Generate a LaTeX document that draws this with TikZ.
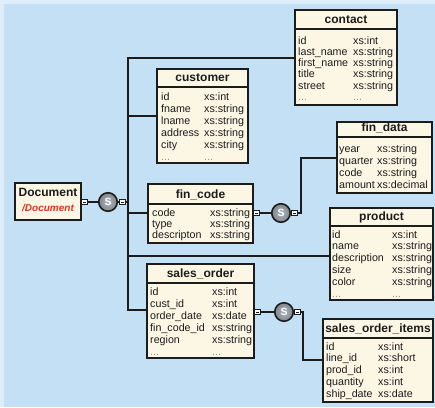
\documentclass[tikz,border=0pt]{standalone}
\usepackage{fontspec}
\setmainfont{Liberation Sans}
\usetikzlibrary{fit}
\definecolor{bgout}{RGB}{221,238,250}
\definecolor{bgin}{RGB}{196,224,244}
\definecolor{cream}{RGB}{252,246,228}
\definecolor{ink}{RGB}{28,28,28}
\definecolor{docred}{RGB}{224,52,30}
\definecolor{sgray}{RGB}{128,134,142}
\definecolor{sgrayl}{RGB}{176,181,187}
\definecolor{dotgray}{RGB}{150,150,150}
\tikzset{
  tbl/.style={draw=ink, line width=1.6pt, fill=cream, inner sep=0pt},
  ttl/.style={font=\fontsize{12}{12}\selectfont\bfseries, text=ink, anchor=base, inner sep=0pt},
  rowtxt/.style={font=\fontsize{10.7}{10.7}\selectfont, text=ink, anchor=base west, inner sep=0pt},
  conn/.style={draw=ink, line width=1.6pt},
  pinbox/.style={draw=ink, line width=0.6pt, fill=white, minimum width=6pt, minimum height=5pt, inner sep=0pt,
    path picture={\draw[line width=0.5pt] ([xshift=-1.5pt]path picture bounding box.center) -- ([xshift=1.5pt]path picture bounding box.center);}},
  seq/.style={circle, draw=ink, line width=1.6pt, inner color=sgrayl, outer color=sgray, minimum size=18.5pt, inner sep=0pt,
    text=white, font=\fontsize{10.5}{10.5}\selectfont\bfseries},
}
\newcommand\dd{\textcolor{dotgray}{...}}
\newcommand\dbtab[7]{%
  \node[tbl, fit={(#2,#3) (#4,#5)}] (#1) {};
  \draw[draw=ink, line width=1.3pt] (#2,#6) -- (#4,#6);
  \node[ttl] (#1-title) at ({(#2+#4)/2},{#6-5.5}) {#7};
}
\newcommand\dbrows[6]{%
  \foreach \nm/\ty [count=\i from 0] in {#6}{%
    \node[rowtxt] (#1-n\i) at (#2,{#4+\i*#5}) {\nm};
    \node[rowtxt] (#1-t\i) at (#3,{#4+\i*#5}) {\ty};
  }%
}
\begin{document}
\begin{tikzpicture}[x=1pt,y=-1pt]
\fill[bgout] (0,0) rectangle (435,407);
\fill[bgin] (4,4) rectangle (435,407);
\useasboundingbox (0,0) rectangle (435,407);

% tables
\dbtab{contact}{295}{10}{397}{105}{29}{contact}
\dbrows{contact}{298}{353}{44}{11.3}{id/xs:int, last\_name/xs:string, first\_name/xs:string, title/xs:string, street/xs:string, \dd/\dd}

\dbtab{customer}{157}{69}{248}{163}{87}{customer}
\dbrows{customer}{161}{204}{100}{12}{id/xs:int, fname/xs:string, lname/xs:string, address/xs:string, city/xs:string, \dd/\dd}

\dbtab{findata}{337}{122}{432}{193}{137}{fin\_data}
\dbrows{findata}{339}{377}{152}{12}{year/xs:string, quarter/xs:string, code/xs:string, amount/xs:decimal}

\dbtab{fincode}{148}{184}{253}{243}{204}{fin\_code}
\dbrows{fincode}{152}{210}{216}{11}{code/xs:string, type/xs:string, descripton/xs:string}

\dbtab{product}{330}{208}{433}{300}{226}{product}
\dbrows{product}{332}{392}{238}{11.8}{id/xs:int, name/xs:string, description/xs:string, size/xs:string, color/xs:string, \dd/\dd}

\dbtab{salesorder}{147}{264}{254}{358}{283}{sales\_order}
\dbrows{salesorder}{150}{212}{295}{12}{id/xs:int, cust\_id/xs:int, order\_date/xs:date, fin\_code\_id/xs:string, region/xs:string, \dd/\dd}

\dbtab{soi}{323}{319}{433}{402}{338}{sales\_order\_items}
\dbrows{soi}{326}{378}{350}{11.8}{id/xs:int, line\_id/xs:short, prod\_id/xs:int, quantity/xs:int, ship\_date/xs:date}

% document root
\node[tbl, fit={(15,183) (81,220)}] (doc) {};
\node[ttl] (doc-title) at (48,196.5) {Document};
\node[font=\fontsize{10}{10}\selectfont\bfseries\itshape, text=docred, anchor=base, inner sep=0pt] (doc-path) at (48,211.5) {/Document};

% trunk
\coordinate (tTop) at (128,58);
\coordinate (tBot) at (128,310);
\coordinate (bCust) at (128,116);
\coordinate (bDoc) at (128,202);
\coordinate (bFin) at (128,213);
\coordinate (bProd) at (128,256);
\draw[conn] (contact.west |- tTop) -- (tTop) -- (tBot) -- (tBot -| salesorder.west);
\draw[conn] (bCust) -- (bCust -| customer.west);
\draw[conn] (bFin) -- (bFin -| fincode.west);
\draw[conn] (bProd) -- (bProd -| product.west);

% sequence 1
\node[pinbox] (p1) at (84.5,202) {};
\node[seq] (s1) at (108,202) {S};
\node[pinbox] (p2) at (122,202) {};
\draw[conn] (p1) -- (s1);
\draw[conn] (s1) -- (p2);
\draw[conn] (p2) -- (bDoc);

% sequence 2
\node[pinbox] (p3) at (256,213) {};
\node[seq] (s2) at (281,213) {S};
\node[pinbox] (p4) at (294.5,213) {};
\coordinate (c2) at (301,213);
\coordinate (c2t) at (301,158);
\draw[conn] (p3) -- (s2);
\draw[conn] (s2) -- (p4);
\draw[conn] (p4) -- (c2) -- (c2t) -- (c2t -| findata.west);

% sequence 3
\node[pinbox] (p5) at (257,312) {};
\node[seq] (s3) at (284,312) {S};
\node[pinbox] (p6) at (297.5,312) {};
\coordinate (c3) at (303,312);
\coordinate (c3b) at (303,360);
\draw[conn] (p5) -- (s3);
\draw[conn] (s3) -- (p6);
\draw[conn] (p6) -- (c3) -- (c3b) -- (c3b -| soi.west);
\end{tikzpicture}
\end{document}
